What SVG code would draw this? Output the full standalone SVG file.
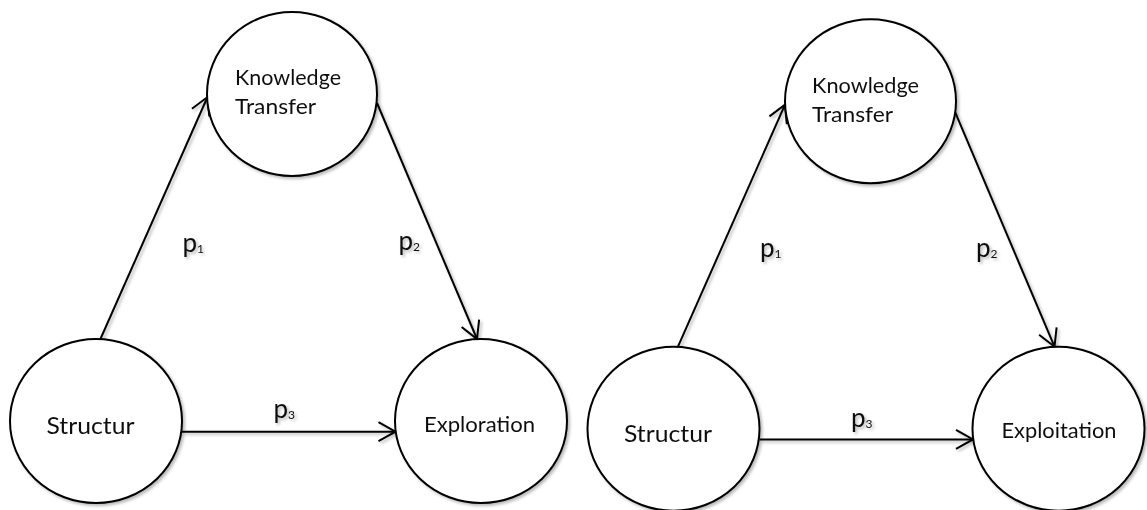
<svg xmlns="http://www.w3.org/2000/svg" width="1147" height="510" viewBox="0 0 1147 510">
  <defs>
    <filter id="soft" x="-20%" y="-20%" width="140%" height="140%">
      <feDropShadow dx="2" dy="2" stdDeviation="1.6" flood-color="#000" flood-opacity="0.28"/>
    </filter>
    <marker id="open-arrow" markerUnits="userSpaceOnUse" markerWidth="24" markerHeight="24" viewBox="-20 -12 24 24" refX="0" refY="0" orient="auto">
      <path d="M -17,-9.5 L 0,0 L -17,9.5" fill="none" stroke="#000" stroke-width="2" stroke-linejoin="miter"/>
    </marker>
  </defs>
  <style>
    .node ellipse { fill: #fff; stroke: #000; stroke-width: 2; }
    .node, .edges, .label { filter: url(#soft); }
    .edges line { stroke: #000; stroke-width: 2; marker-end: url(#open-arrow); }
    text { font-family: Lato, "Liberation Sans", sans-serif; fill: #111; }
    .name { font-size: 22px; }
    .big { font-size: 24px; }
    .p { font-size: 26px; }
    .sub { font-size: 12px; }
  </style>

  <rect width="1147" height="510" fill="#fff"/>

  <!-- Model A: structure, knowledge transfer and exploration -->
  <g id="model-exploration">
    <g class="edges" id="edges-a">
      <line x1="100" y1="340" x2="207.5" y2="97"/>
      <line x1="377" y1="103" x2="477" y2="339"/>
      <line x1="182" y1="431.7" x2="395.5" y2="431.7"/>
    </g>
    <g class="node" id="a-knowledge-transfer">
      <ellipse cx="292" cy="94" rx="85" ry="82"/>
      <text class="name" x="235" y="85" textLength="106" lengthAdjust="spacingAndGlyphs">Knowledge</text>
      <text class="name" x="235" y="114" textLength="81" lengthAdjust="spacingAndGlyphs">Transfer</text>
    </g>
    <g class="node" id="a-structur">
      <ellipse cx="96" cy="421" rx="86" ry="82"/>
      <text class="big" x="46.5" y="434" textLength="88" lengthAdjust="spacingAndGlyphs">Structur</text>
    </g>
    <g class="node" id="a-exploration">
      <ellipse cx="481" cy="421" rx="86" ry="82"/>
      <text class="name" x="424" y="431.7" textLength="111" lengthAdjust="spacingAndGlyphs">Exploration</text>
    </g>
    <g class="label" id="a-labels">
      <text class="p" x="182.5" y="252">p<tspan class="sub" dy="1">1</tspan></text>
      <text class="p" x="398.5" y="250">p<tspan class="sub" dy="1">2</tspan></text>
      <text class="p" x="273.5" y="418">p<tspan class="sub" dy="1">3</tspan></text>
    </g>
  </g>

  <!-- Model B: structure, knowledge transfer and exploitation -->
  <g id="model-exploitation" transform="translate(577.5,7.7)">
    <g class="edges" id="edges-b">
      <line x1="100" y1="340" x2="207.5" y2="97"/>
      <line x1="377" y1="103" x2="477" y2="339"/>
      <line x1="182" y1="431.7" x2="395.5" y2="431.7"/>
    </g>
    <g class="node" id="b-knowledge-transfer">
      <ellipse cx="293" cy="93.5" rx="85.5" ry="82"/>
      <text class="name" x="234.5" y="85" textLength="107" lengthAdjust="spacingAndGlyphs">Knowledge</text>
      <text class="name" x="234.5" y="114" textLength="81" lengthAdjust="spacingAndGlyphs">Transfer</text>
    </g>
    <g class="node" id="b-structur">
      <ellipse cx="96" cy="421" rx="86" ry="82"/>
      <text class="big" x="46.5" y="434" textLength="88" lengthAdjust="spacingAndGlyphs">Structur</text>
    </g>
    <g class="node" id="b-exploitation">
      <ellipse cx="481" cy="421" rx="86" ry="82"/>
      <text class="name" x="424" y="430.6" textLength="115" lengthAdjust="spacingAndGlyphs">Exploitation</text>
    </g>
    <g class="label" id="b-labels">
      <text class="p" x="182.5" y="249">p<tspan class="sub" dy="1">1</tspan></text>
      <text class="p" x="398.5" y="249">p<tspan class="sub" dy="1">2</tspan></text>
      <text class="p" x="273.5" y="419">p<tspan class="sub" dy="1">3</tspan></text>
    </g>
  </g>
</svg>
